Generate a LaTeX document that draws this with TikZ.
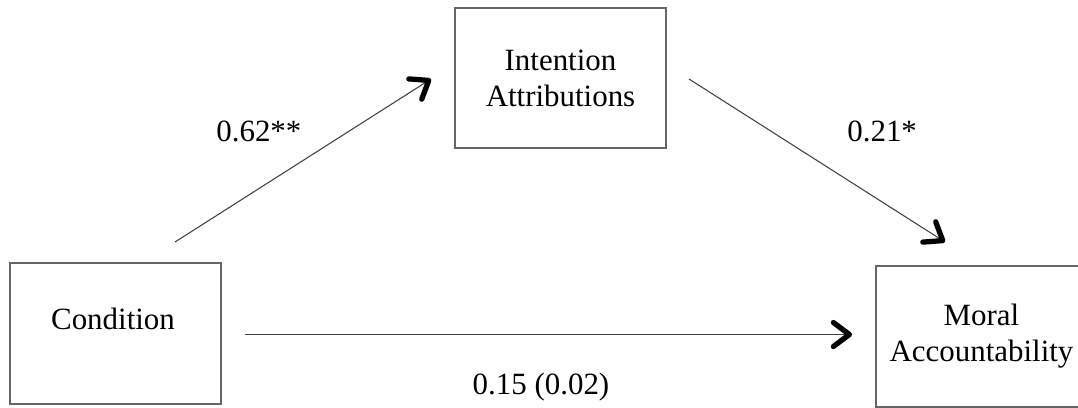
\documentclass[tikz,border=0pt]{standalone}
\usepackage{fontspec}
\setmainfont{Liberation Serif}
\usetikzlibrary{arrows.meta,shadows}

\tikzset{
  box/.style={draw=black!60, line width=1.1pt, fill=white, minimum width=4.22cm, minimum height=2.81cm,
    inner sep=0pt, align=center, drop shadow={shadow xshift=0.7pt, shadow yshift=-0.7pt, opacity=0.2}},
  path/.style={draw=black!75, line width=0.6pt,
    -{Straight Barb[length=0.32cm, width=0.48cm, line width=3pt, round, color=black]}},
  coef/.style={inner sep=0pt}
}

\begin{document}
\begin{tikzpicture}[x=0.02cm, y=-0.02cm, font=\fontsize{17.6pt}{20.5pt}\selectfont]
    \useasboundingbox (0,0) rectangle (1078,407);
    \clip (0,0) rectangle (1078,407);

    % boxes
    \node[box] (cond) at (115.5,333.5) {};
    \node[coef, anchor=base] (condtext) at (113,329) {Condition};
    \node[box] (intent) at (560.5,78) {Intention\\Attributions};
    \node[box] (moral) at (981.5,336.5) {Moral\\Accountability};

    % arrow ends
    \coordinate (a1) at (175,242);
    \coordinate (a2) at (431,79);
    \coordinate (b1) at (689,79);
    \coordinate (b2) at (945,242);
    \coordinate (c1) at (245,334.5);
    \coordinate (c2) at (852,334.5);

    \draw[path] (a1) -- (a2);
    \draw[path] (b1) -- (b2);
    \draw[path] (c1) -- (c2);

    % coefficients
    \node[coef, anchor=base west] (ca) at (216,141) {0.62**};
    \node[coef, anchor=base west] (cb) at (847,141) {0.21*};
    \node[coef, anchor=base] (cc) at (541,394) {0.15 (0.02)};
\end{tikzpicture}
\end{document}
